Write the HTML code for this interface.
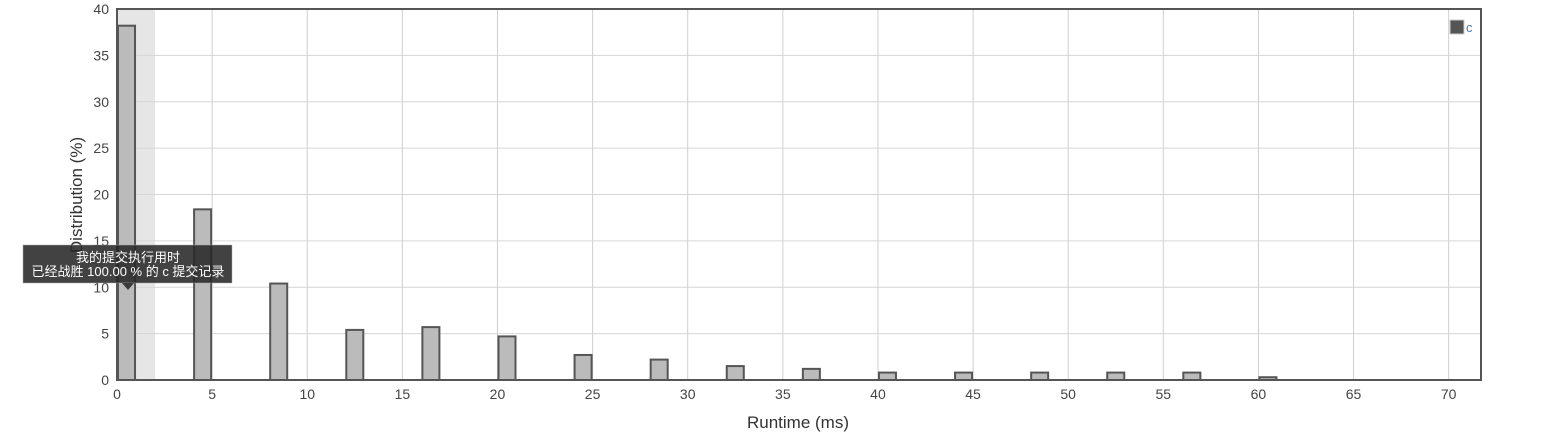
<!DOCTYPE html>
<html><head><meta charset="utf-8"><style>
body{margin:0;background:#fff;font-family:"Liberation Sans","Noto Sans CJK SC",sans-serif;}
svg text{font-family:"Liberation Sans","Noto Sans CJK SC",sans-serif;}
</style></head><body>
<svg id="chart" width="1565" height="442" xmlns="http://www.w3.org/2000/svg"></svg>
<script>
const categories=[0,4,8,12,16,20,24,28,32,36,40,44,48,52,56,60];
const values=[38.2,18.4,10.4,5.4,5.7,4.7,2.7,2.2,1.5,1.2,0.8,0.8,0.8,0.8,0.8,0.3];
const xTicks=[0,5,10,15,20,25,30,35,40,45,50,55,60,65,70];
const yTicks=[0,5,10,15,20,25,30,35,40];
const L=117,R=1481,T=9,B=380,XMAX=71.7,YMAX=40;
const sx=v=>L+v*(R-L)/XMAX, sy=v=>B-v*(B-T)/YMAX;
const svg=document.getElementById('chart');
const NS='http://www.w3.org/2000/svg';
function mk(tag,attrs,parent){const e=document.createElementNS(NS,tag);for(const k in attrs)e.setAttribute(k,attrs[k]);(parent||svg).appendChild(e);return e;}
const band=mk('rect',{x:sx(0),y:T,width:sx(2)-sx(0),height:B-T,fill:'#e6e6e6'});


xTicks.forEach(t=>{
 const g=mk('line',{x1:sx(t),x2:sx(t),y1:T,y2:B,stroke:'#cfcfcf','stroke-width':1});
 
 
 const tx=mk('text',{x:sx(t),y:B+19,'text-anchor':'middle','font-size':14,fill:'#444'});tx.textContent=t;
 
 
});
yTicks.forEach(t=>{
 const g=mk('line',{x1:L,x2:R,y1:sy(t),y2:sy(t),stroke:'#d6d6d6','stroke-width':1});
 
 
 const tx=mk('text',{x:L-8,y:sy(t)+5,'text-anchor':'end','font-size':14,fill:'#444'});tx.textContent=t;
 
 
});
categories.forEach((c,i)=>{
 const b=mk('rect',{x:sx(c)+1,y:sy(values[i]),width:sx(c+1)-sx(c)-2,height:B-sy(values[i]),fill:'#bbb',stroke:'#555','stroke-width':2});
 
 
});
const fr=mk('rect',{x:L,y:T,width:R-L,height:B-T,fill:'none',stroke:'#555','stroke-width':2});


const xt=mk('text',{x:798,y:428,'text-anchor':'middle','font-size':17,fill:'#333'});xt.textContent='Runtime (ms)';


const yt=mk('text',{x:0,y:0,'text-anchor':'middle','font-size':17,fill:'#333',transform:'translate(82,195) rotate(-90)'});yt.textContent='Distribution (%)';


const lg=mk('g',{});


mk('rect',{x:1450,y:20,width:14,height:14,fill:'#555',stroke:'#ccc','stroke-width':1},lg);
const lt=mk('text',{x:1466,y:32,'font-size':13,fill:'#4a7bb0'},lg);lt.textContent='c';
const tip=mk('g',{});


mk('rect',{x:23,y:245,width:209,height:38,fill:'rgba(40,40,40,0.88)',stroke:'#aaa','stroke-width':0.5},tip);
mk('path',{d:'M122 283 L134 283 L128 290 Z',fill:'rgba(40,40,40,0.88)'},tip);
const t1=mk('text',{x:128,y:262,'text-anchor':'middle','font-size':13,fill:'#fff'},tip);t1.textContent='我的提交执行用时';
const t2=mk('text',{x:128,y:276,'text-anchor':'middle','font-size':13,fill:'#fff'},tip);t2.textContent='已经战胜 100.00 % 的 c 提交记录';
</script>
</body></html>
